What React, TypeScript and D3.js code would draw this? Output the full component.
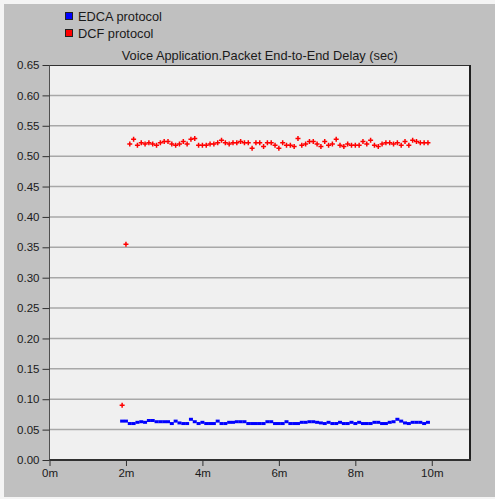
import React, { useEffect, useRef } from "react";
import * as d3 from "d3";

// sample times (minutes)
const sampleTimes = [
  1.9, 2.0, 2.1, 2.2, 2.3, 2.4, 2.5, 2.6, 2.7, 2.8, 2.9, 3.0, 3.1, 3.2, 3.3, 3.4, 3.5, 3.6, 3.7, 3.8,
  3.9, 4.0, 4.1, 4.2, 4.3, 4.4, 4.5, 4.6, 4.7, 4.8, 4.9, 5.0, 5.1, 5.2, 5.3, 5.4, 5.5, 5.6, 5.7, 5.8,
  5.9, 6.0, 6.1, 6.2, 6.3, 6.4, 6.5, 6.6, 6.7, 6.8, 6.9, 7.0, 7.1, 7.2, 7.3, 7.4, 7.5, 7.6, 7.7, 7.8,
  7.9, 8.0, 8.1, 8.2, 8.3, 8.4, 8.5, 8.6, 8.7, 8.8, 8.9, 9.0, 9.1, 9.2, 9.3, 9.4, 9.5, 9.6, 9.7, 9.8,
  9.9,
];

const edcaDelay = [
  0.064, 0.064, 0.060, 0.060, 0.062, 0.063, 0.062, 0.065, 0.065, 0.063, 0.063, 0.063, 0.063, 0.060,
  0.064, 0.061, 0.060, 0.060, 0.067, 0.063, 0.060, 0.062, 0.060, 0.060, 0.060, 0.064, 0.060, 0.060,
  0.062, 0.062, 0.063, 0.063, 0.063, 0.060, 0.060, 0.060, 0.060, 0.060, 0.063, 0.063, 0.060, 0.060,
  0.060, 0.063, 0.060, 0.060, 0.060, 0.062, 0.062, 0.063, 0.063, 0.062, 0.061, 0.060, 0.062, 0.060,
  0.060, 0.062, 0.060, 0.060, 0.062, 0.060, 0.062, 0.060, 0.060, 0.060, 0.062, 0.062, 0.060, 0.060,
  0.062, 0.063, 0.067, 0.064, 0.061, 0.060, 0.062, 0.062, 0.062, 0.060, 0.062,
];

const dcfDelay = [
  0.090, 0.355,
  0.520, 0.528, 0.518, 0.522, 0.520, 0.522, 0.520, 0.518, 0.522, 0.524,
  0.524, 0.520, 0.518, 0.520, 0.524, 0.520, 0.528, 0.529, 0.518, 0.518,
  0.518, 0.520, 0.520, 0.522, 0.526, 0.522, 0.520, 0.522, 0.522, 0.524,
  0.522, 0.522, 0.513, 0.522, 0.522, 0.516, 0.522, 0.522, 0.518, 0.513,
  0.522, 0.518, 0.518, 0.516, 0.529,
  0.518, 0.520, 0.524, 0.524, 0.520, 0.516, 0.524, 0.518, 0.520, 0.528,
  0.518, 0.516, 0.520, 0.518, 0.518, 0.518, 0.524, 0.520, 0.526, 0.518,
  0.516, 0.520, 0.522, 0.522, 0.520, 0.522, 0.518, 0.524, 0.518, 0.526,
  0.524, 0.522, 0.522, 0.522,
];

const yTicks = [0, 0.05, 0.1, 0.15, 0.2, 0.25, 0.3, 0.35, 0.4, 0.45, 0.5, 0.55, 0.6, 0.65];
const xTicks = [0, 2, 4, 6, 8, 10];
const seriesNames = ["EDCA protocol", "DCF protocol"];
const chartTitle = "Voice Application.Packet End-to-End Delay (sec)";

const W = 495;
const H = 499;
const FONT = "'Liberation Sans', Arial, sans-serif";

export default function App() {
  const ref = useRef<SVGSVGElement>(null);

  useEffect(() => {
    const svg = d3.select(ref.current);
    svg.selectAll("*").remove();

    const left = 49.5, right = 470, top = 65, bottom = 460;
    const x = d3.scaleLinear().domain([0, 11]).range([left, right]);
    const y = d3.scaleLinear().domain([0, 0.65]).range([bottom, top]);

    // page / panel background
    svg.append("rect").attr("width", W).attr("height", H).attr("fill", "#f4f4f4");
    svg.append("rect").attr("x", 4).attr("y", 4).attr("width", W - 4).attr("height", H - 6).attr("fill", "#c0c0c0");

    // legend
    const colors = ["#0000ff", "#ff0000"];
    seriesNames.forEach((name, i) => {
      const ly = 12.5 + i * 17;
      svg.append("rect").attr("x", 65.5).attr("y", ly).attr("width", 7).attr("height", 7)
        .attr("fill", colors[i]).attr("stroke", "#202020").attr("stroke-width", 1);
      svg.append("text").attr("x", 78).attr("y", ly + 8).text(name)
        .attr("font-family", FONT).attr("font-size", 12.8).attr("fill", "#1a1a1a");
    });

    // title
    svg.append("text").attr("x", (left + right) / 2).attr("y", 59.5).attr("text-anchor", "middle")
      .attr("font-family", FONT).attr("font-size", 12.8).attr("fill", "#1a1a1a").text(chartTitle);

    // plot area
    svg.append("rect").attr("x", left).attr("y", top).attr("width", right - left).attr("height", bottom - top)
      .attr("fill", "#f0f0f0");

    // gridlines
    svg.append("g").selectAll("line").data(yTicks.filter((t) => t > 0 && t < 0.65)).enter().append("line")
      .attr("x1", left).attr("x2", right).attr("y1", (d) => y(d)).attr("y2", (d) => y(d))
      .attr("stroke", "#a8a8a8").attr("stroke-width", 1.5);

    // frame
    svg.append("line").attr("x1", left).attr("x2", right).attr("y1", top + 0.5).attr("y2", top + 0.5)
      .attr("stroke", "#303030").attr("stroke-width", 1);
    svg.append("line").attr("x1", left).attr("x2", left).attr("y1", top).attr("y2", bottom)
      .attr("stroke", "#505050").attr("stroke-width", 1);
    svg.append("line").attr("x1", right).attr("x2", right).attr("y1", top).attr("y2", bottom + 1)
      .attr("stroke", "#202020").attr("stroke-width", 2);
    svg.append("line").attr("x1", left).attr("x2", right + 1).attr("y1", bottom).attr("y2", bottom)
      .attr("stroke", "#303030").attr("stroke-width", 2);

    // axes
    const yAxis = d3.axisLeft(y).tickValues(yTicks).tickFormat(d3.format(".2f")).tickSize(7).tickPadding(3);
    const gy = svg.append("g").attr("transform", `translate(${left},0)`).call(yAxis);
    const xAxis = d3.axisBottom(x).tickValues(xTicks).tickFormat((d) => `${d}m`).tickSize(6).tickPadding(3);
    const gx = svg.append("g").attr("transform", `translate(0,${bottom})`).call(xAxis);
    [gx, gy].forEach((g) => {
      g.select(".domain").remove();
      g.selectAll("line").attr("stroke", "#303030");
      g.selectAll("text").attr("font-family", FONT).attr("font-size", 11.5).attr("fill", "#1a1a1a");
    });

    // EDCA series (blue squares)
    svg.append("g").selectAll("rect").data(edcaDelay).enter().append("rect")
      .attr("x", (d, i) => x(sampleTimes[i]) - 2).attr("y", (d) => y(d) - 1.5)
      .attr("width", 4).attr("height", 3).attr("fill", "#0000ff");

    // DCF series (red crosses)
    svg.append("g").selectAll("path").data(dcfDelay).enter().append("path")
      .attr("d", (d, i) => {
        const cx = x(sampleTimes[i]), cy = y(d);
        return `M${cx - 2.5},${cy}H${cx + 2.5}M${cx},${cy - 2.5}V${cy + 2.5}`;
      })
      .attr("stroke", "#ff0000").attr("stroke-width", 1.5).attr("fill", "none");
  }, []);

  return (
    <svg ref={ref} width={W} height={H}
      style={{ position: "absolute", left: 0, top: 0, display: "block" }} />
  );
}
